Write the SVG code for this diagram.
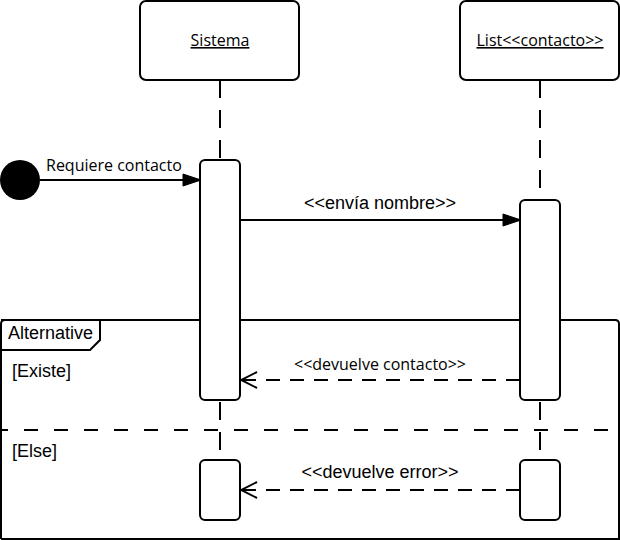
<svg xmlns="http://www.w3.org/2000/svg" width="620" height="540" viewBox="0 0 620 540">
<style>
.box{fill:#fff;stroke:#000;stroke-width:2}
.life{stroke:#000;stroke-width:2;stroke-dasharray:18 12;fill:none}
.msg{stroke:#000;stroke-width:2;fill:none}
.ret{stroke:#000;stroke-width:2;fill:none;stroke-dasharray:14 10}
.h{font-family:"Open Sans","Noto Sans",sans-serif;font-size:16px;fill:#000}
.a{font-family:"Liberation Sans",Arial,sans-serif;font-size:18px;fill:#000}
</style>
<defs>
<marker id="fill" viewBox="0 0 20 14" refX="19" refY="7" markerWidth="20" markerHeight="14" markerUnits="userSpaceOnUse" orient="auto"><path d="M1,1 L19,7 L1,13 Z" fill="#000" stroke="#000" stroke-width="1"/></marker>
<marker id="open" viewBox="0 0 20 20" refX="18" refY="10" markerWidth="20" markerHeight="20" markerUnits="userSpaceOnUse" orient="auto"><path d="M2,2 L18,10 L2,18" fill="none" stroke="#000" stroke-width="2"/></marker>
</defs>
<g id="connectors">
<line class="life" x1="220" y1="80" x2="220" y2="160"/>
<line class="life" x1="540" y1="80" x2="540" y2="200"/>
<line class="life" x1="220" y1="400" x2="220" y2="460" stroke-dashoffset="-2"/>
<line class="life" x1="540" y1="400" x2="540" y2="460" stroke-dashoffset="-2"/>
<line class="msg" x1="40" y1="180" x2="201" y2="180" marker-end="url(#fill)"/>
<line class="msg" x1="240" y1="220" x2="521" y2="220" marker-end="url(#fill)"/>
<line class="ret" x1="520" y1="380" x2="241" y2="380" marker-end="url(#open)"/>
<line class="ret" x1="520" y1="490" x2="241" y2="490" marker-end="url(#open)"/>
</g>
<g id="frame">
<path d="M1,539 L1,324 Q1,320 5,320 L615,320 Q619,320 619,324 L619,539 L1,539" fill="none" stroke="#000" stroke-width="2"/>
<path d="M1,320 L100,320 L100,340 L90,350 L1,350" fill="none" stroke="#000" stroke-width="2"/>
<line x1="1" y1="430" x2="619" y2="430" stroke="#000" stroke-width="2" style="stroke-dasharray:14 16;stroke-dashoffset:-23"/>
<text class="a" x="8" y="339">Alternative</text>
<text class="a" x="12" y="377">[Existe]</text>
<text class="a" x="12" y="457">[Else]</text>
</g>
<g id="sistema">
<rect class="box" x="140" y="1" width="159" height="79" rx="6"/>
<text class="h" x="220" y="46" text-anchor="middle" text-decoration="underline">Sistema</text>
</g>
<g id="lista">
<rect class="box" x="460" y="1" width="159" height="79" rx="6"/>
<text class="h" x="540" y="46" text-anchor="middle" text-decoration="underline">List&lt;&lt;contacto&gt;&gt;</text>
</g>
<g id="inicio">
<circle cx="20" cy="180" r="20" fill="#000"/>
</g>
<g id="act1"><rect class="box" x="200" y="160" width="40" height="240" rx="5"/></g>
<g id="act2"><rect class="box" x="520" y="200" width="40" height="200" rx="5"/></g>
<g id="act3"><rect class="box" x="200" y="460" width="40" height="60" rx="5"/></g>
<g id="act4"><rect class="box" x="520" y="460" width="40" height="60" rx="5"/></g>
<g id="labels">
<text class="h" x="46" y="171">Requiere contacto</text>
<text class="a" x="380" y="209" text-anchor="middle">&lt;&lt;envía nombre&gt;&gt;</text>
<text class="h" x="380" y="370" text-anchor="middle">&lt;&lt;devuelve contacto&gt;&gt;</text>
<text class="a" x="380" y="478" text-anchor="middle">&lt;&lt;devuelve error&gt;&gt;</text>
</g>
</svg>
